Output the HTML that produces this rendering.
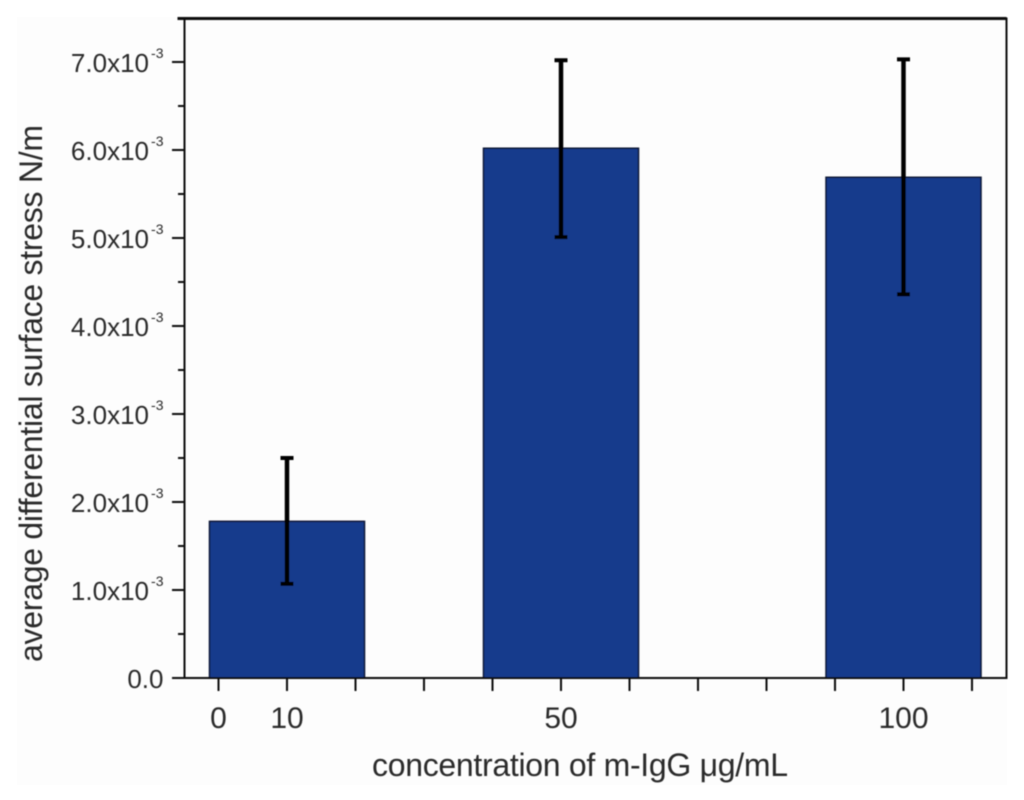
<!DOCTYPE html>
<html lang="en">
<head>
<meta charset="utf-8">
<title>Average differential surface stress</title>
<style>
html,body{margin:0;padding:0;background:#fff;}
body{width:1024px;height:800px;overflow:hidden;}
svg{display:block;}
text{font-family:"Liberation Sans",sans-serif;fill:#2a2a2a;}
</style>
</head>
<body>
<svg id="chart" xmlns="http://www.w3.org/2000/svg" width="1024" height="800" viewBox="0 0 1024 800">
  <defs>
    <filter id="soft" x="-5%" y="-5%" width="110%" height="110%"><feGaussianBlur stdDeviation="0.5"/></filter>
  </defs>
  <rect x="17" y="17" width="990" height="768" fill="#fdfdfd"/>
  <g id="marks" filter="url(#soft)"></g>
  <text transform="translate(42,393.5) rotate(-90)" text-anchor="middle" font-size="32" textLength="537" filter="url(#soft)">average differential surface stress N/m</text>
  <text x="580" y="776" text-anchor="middle" font-size="32" textLength="416" filter="url(#soft)">concentration of m-IgG μg/mL</text>
</svg>
<script>
const categories = [10, 50, 100];
const barValues = [1.78, 6.02, 5.69];
const errorUpper = [2.50, 7.02, 7.03];
const errorLower = [1.07, 5.01, 4.36];
const yMajorTicks = [0, 1, 2, 3, 4, 5, 6, 7];
const yMinorTicks = [0.5, 1.5, 2.5, 3.5, 4.5, 5.5, 6.5];
const yTickLabels = ["0.0", "1.0x10", "2.0x10", "3.0x10", "4.0x10", "5.0x10", "6.0x10", "7.0x10"];
const xTicks = [0, 10, 20, 30, 40, 50, 60, 70, 80, 90, 100, 110];
const xTickLabels = [[0, "0"], [10, "10"], [50, "50"], [100, "100"]];

const plotLeft = 184.5, plotRight = 1006.5, plotTop = 18.5, plotBottom = 678;
function yScale(v) { return plotBottom - v * 88; }
function xScale(c) { return 218.5 + 68.5 * (c / 10); }
const barWidth = 155;

const NS = "http://www.w3.org/2000/svg";
const marks = document.getElementById("marks");
function make(tag, attrs, parent) {
  const el = document.createElementNS(NS, tag);
  for (const k in attrs) el.setAttribute(k, attrs[k]);
  (parent || marks).appendChild(el);
  return el;
}

categories.forEach(function (c, i) {
  const cx = xScale(c);
  const bar = make("rect", {
    x: cx - barWidth / 2, y: yScale(barValues[i]),
    width: barWidth, height: plotBottom - yScale(barValues[i]),
    fill: "#183a8c", stroke: "#0a1430", "stroke-width": 1.5
  });
  
  
});

categories.forEach(function (c, i) {
  const cx = xScale(c);
  const stem = make("line", {
    x1: cx, x2: cx, y1: yScale(errorUpper[i]), y2: yScale(errorLower[i]),
    stroke: "#050505", "stroke-width": 4.5
  });
  
  
  [errorUpper[i], errorLower[i]].forEach(function (v) {
    const cap = make("line", {
      x1: cx - 6.5, x2: cx + 6.5, y1: yScale(v), y2: yScale(v),
      stroke: "#050505", "stroke-width": 4
    });
    
    
  });
});

const frame = make("rect", {
  x: plotLeft, y: plotTop, width: plotRight - plotLeft, height: plotBottom - plotTop,
  fill: "none", stroke: "#111", "stroke-width": 2
});


const topEdge = make("line", { x1: plotLeft - 7, x2: plotRight, y1: plotTop, y2: plotTop, stroke: "#111", "stroke-width": 3 });



yMajorTicks.forEach(function (v, i) {
  const t = make("line", { x1: 172, x2: plotLeft, y1: yScale(v), y2: yScale(v), stroke: "#111", "stroke-width": 2 });
  
  
  const label = make("text", { x: v === 0 ? 163.5 : 149, y: yScale(v) + 10, "text-anchor": "end", "font-size": 26 });
  label.textContent = yTickLabels[i];
  
  
  if (v !== 0) {
    const exp = make("text", { x: 163.5, y: yScale(v) - 4, "text-anchor": "end", "font-size": 14 });
    exp.textContent = "-3";
    
    
  }
});
yMinorTicks.forEach(function (v) {
  const t = make("line", { x1: 178, x2: plotLeft, y1: yScale(v), y2: yScale(v), stroke: "#111", "stroke-width": 2 });
  
  
});

xTicks.forEach(function (c) {
  const t = make("line", { x1: xScale(c), x2: xScale(c), y1: plotBottom, y2: 691, stroke: "#111", "stroke-width": 2 });
  
  
});
xTickLabels.forEach(function (p) {
  const label = make("text", { x: xScale(p[0]), y: 728, "text-anchor": "middle", "font-size": 30 });
  label.textContent = p[1];
  
  
});
</script>
</body>
</html>
